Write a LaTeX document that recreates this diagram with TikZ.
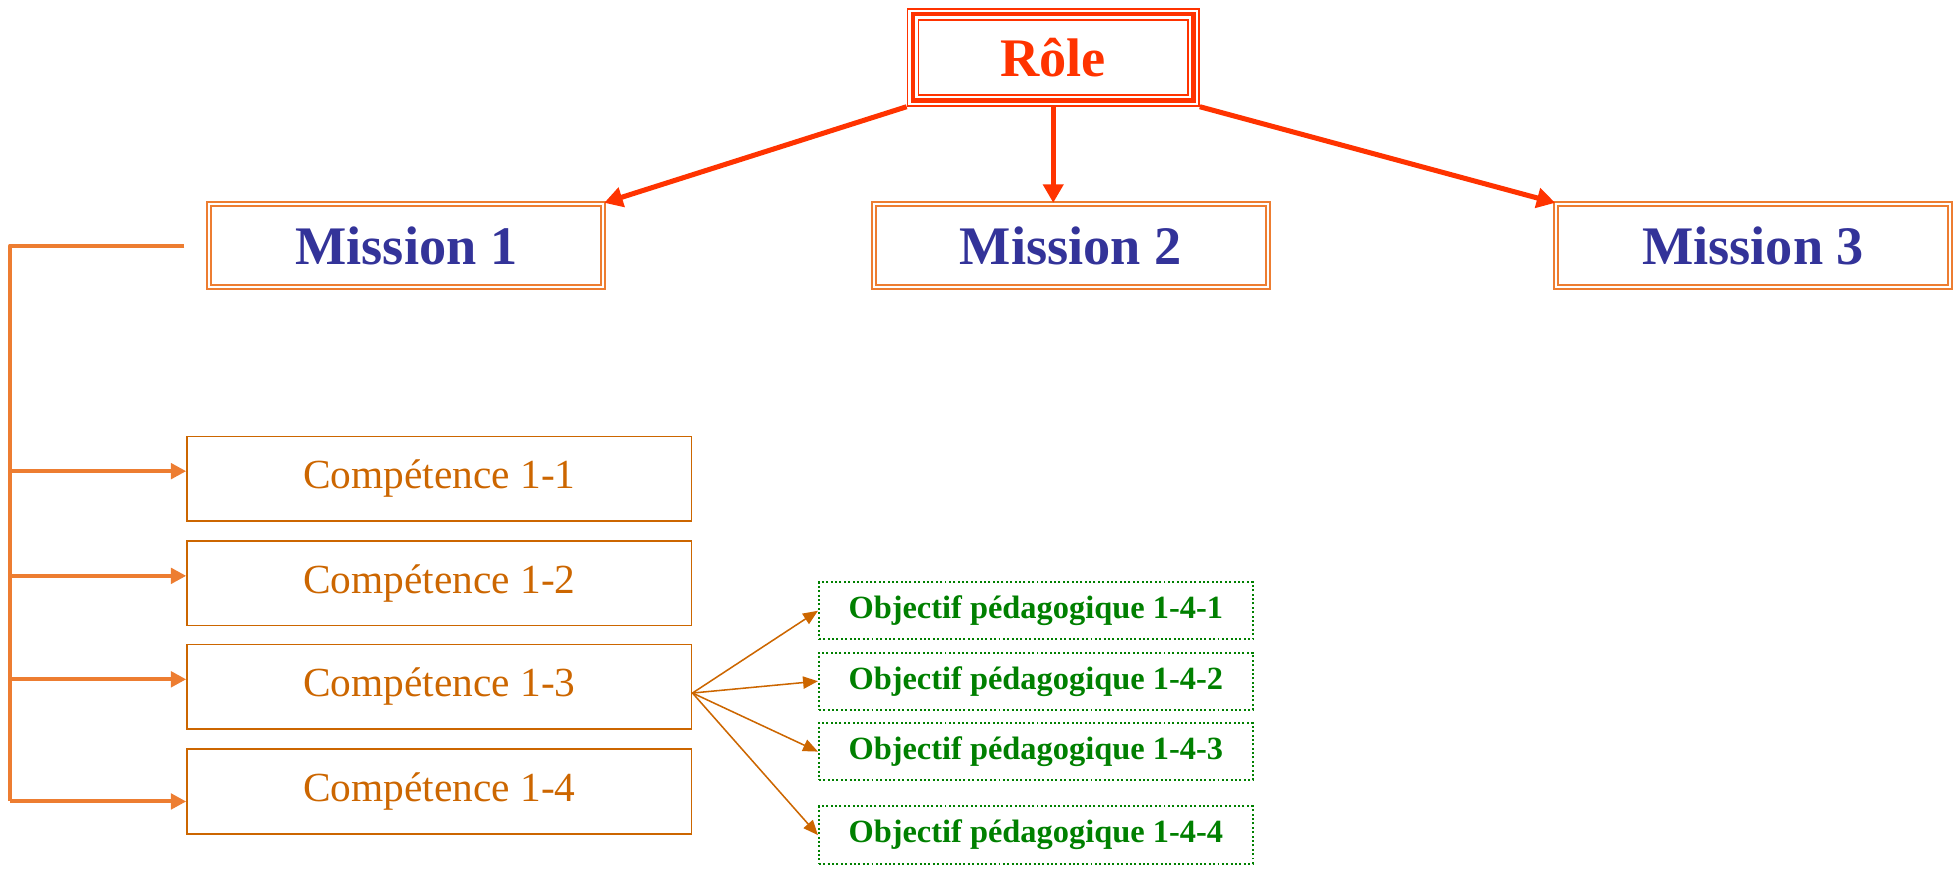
\documentclass[tikz,border=0pt]{standalone}
\usepackage{fontspec}
\setmainfont{Liberation Serif}
\usetikzlibrary{arrows.meta}

\definecolor{rolered}{HTML}{FF3300}
\definecolor{missionblue}{HTML}{333399}
\definecolor{linkorange}{HTML}{ED7D31}
\definecolor{compbrown}{HTML}{CC6600}
\definecolor{objgreen}{HTML}{008000}

\tikzset{
	role/.style={draw=rolered, line width=0.7pt, minimum width=4.68cm, minimum height=1.56cm, inner sep=0pt, text=rolered, font=\fontsize{24.8}{28}\selectfont\bfseries},
	mission/.style={draw=linkorange, double=white, line width=0.9pt, double distance=0.9pt, minimum width=6.32cm, minimum height=1.34cm, inner sep=0pt, text=missionblue, font=\fontsize{24.8}{28}\selectfont\bfseries},
	competence/.style={draw=compbrown, line width=0.7pt, minimum width=8.1cm, minimum height=1.36cm, inner sep=0pt, text=compbrown, font=\fontsize{18.9}{22}\selectfont},
	objectif/.style={draw=objgreen, dash pattern=on 0.9pt off 1.1pt, line width=0.9pt, minimum width=6.96cm, minimum height=0.92cm, inner sep=0pt, text=objgreen, font=\fontsize{14.8}{17}\selectfont\bfseries},
	rolearrow/.style={draw=rolered, line width=2.3pt, -{Triangle[length=8.4pt,width=9pt]}},
	brackarrow/.style={draw=linkorange, line width=1.8pt, -{Triangle[length=7pt,width=7pt]}},
	fanarrow/.style={draw=compbrown, line width=0.7pt, -{Triangle[length=6.8pt,width=5.6pt]}}
}

\begin{document}
\begin{tikzpicture}[x=0.02cm, y=-0.02cm]
	\useasboundingbox (0,0) rectangle (1568.5,698);
	\node[role] (role) at (845,46) {Rôle};
	\draw[rolered, line width=1.9pt] ([shift={(5,5)}]role.north west) rectangle ([shift={(-5,-5)}]role.south east);
	\draw[rolered, line width=0.7pt] ([shift={(9.5,9.5)}]role.north west) rectangle ([shift={(-9.5,-9.5)}]role.south east);
	\node[mission] (m1) at (326,197) {Mission 1};
	\node[mission] (m2) at (859,197) {Mission 2};
	\node[mission] (m3) at (1406.5,197) {Mission 3};
	\draw[rolearrow] (role.south west) -- (m1.north east);
	\draw[rolearrow] (role.south) -- (role.south |- m2.north);
	\draw[rolearrow] (role.south east) -- (m3.north west);
	\node[competence] (c1) at (352.5,384) {Compétence 1-1};
	\node[competence] (c2) at (352.5,468) {Compétence 1-2};
	\node[competence] (c3) at (352.5,551) {Compétence 1-3};
	\node[competence] (c4) at (352.5,635) {Compétence 1-4};
	\coordinate (btop) at (148,197);
	\coordinate (b1) at (8,378);
	\coordinate (b2) at (8,462);
	\coordinate (b3) at (8,545);
	\coordinate (b4) at (8,643);
	\draw[linkorange, line width=1.8pt, line join=round] (btop) -| (b4);
	\draw[brackarrow] (b1) -- (b1 -| c1.west);
	\draw[brackarrow] (b2) -- (b2 -| c2.west);
	\draw[brackarrow] (b3) -- (b3 -| c3.west);
	\draw[brackarrow] (b4) -- (b4 -| c4.west);
	\node[objectif] (o1) at (831,490) {Objectif pédagogique 1-4-1};
	\node[objectif] (o2) at (831,546.5) {Objectif pédagogique 1-4-2};
	\node[objectif] (o3) at (831,603) {Objectif pédagogique 1-4-3};
	\node[objectif] (o4) at (831,670) {Objectif pédagogique 1-4-4};
	\coordinate (fan) at ([shift={(0,5)}]c3.east);
	\draw[fanarrow] (fan) -- (o1.west);
	\draw[fanarrow] (fan) -- (o2.west);
	\draw[fanarrow] (fan) -- (o3.west);
	\draw[fanarrow] (fan) -- (o4.west);
\end{tikzpicture}
\end{document}
